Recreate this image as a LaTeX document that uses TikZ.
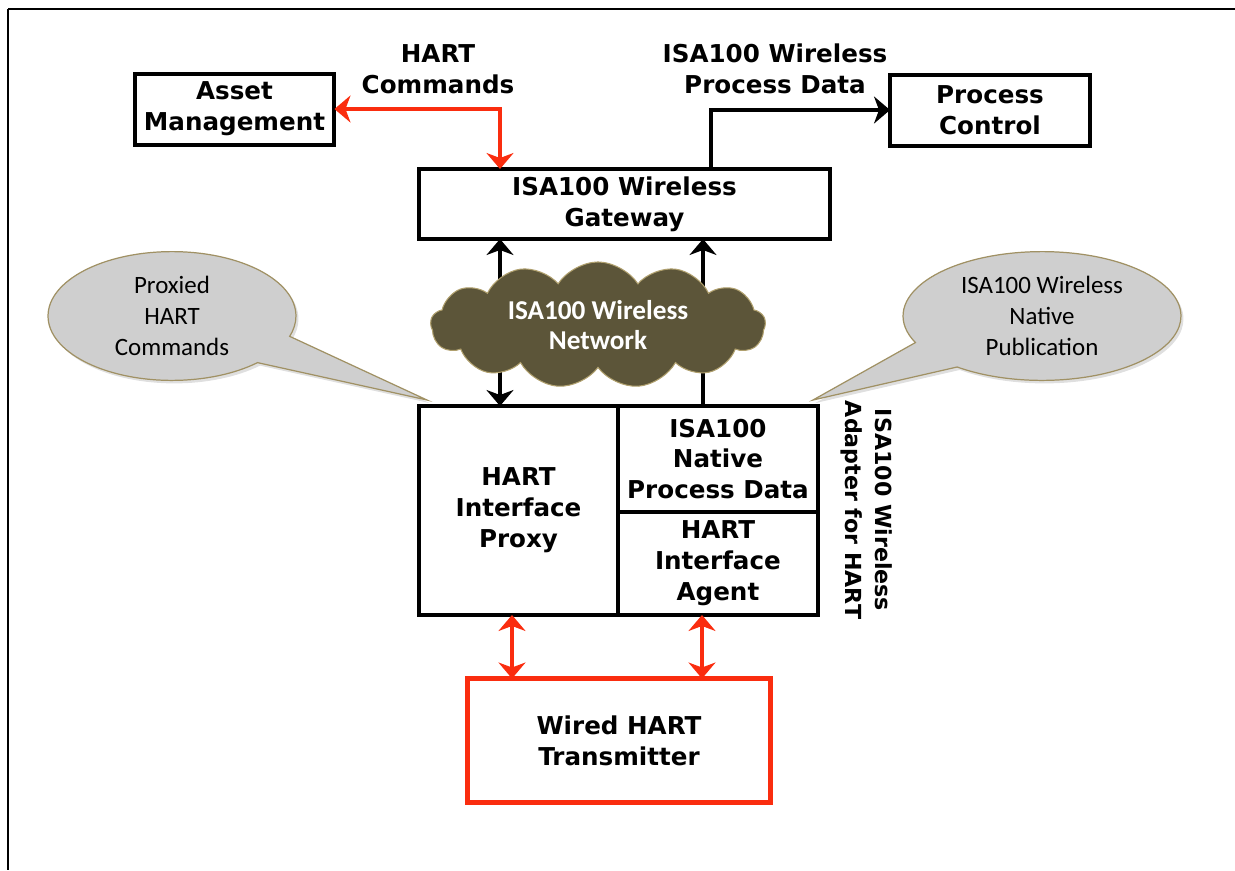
\documentclass[tikz,border=0pt]{standalone}
\usepackage{fontspec}
\setmainfont{DejaVu Sans}
\newfontfamily\calloutfont{Carlito}
\usetikzlibrary{arrows.meta, positioning, calc, shapes.symbols, shapes.callouts, shadows}
\definecolor{hartred}{RGB}{250, 45, 15}
\definecolor{netolive}{RGB}{92, 85, 57}
\definecolor{netedge}{RGB}{176, 160, 110}
\definecolor{bubblegray}{RGB}{207, 207, 207}
\definecolor{bubbleedge}{RGB}{160, 145, 100}
\tikzset{
    block/.style={
        rectangle, draw=black, fill=white, line width=0.08cm, outer sep=0pt,
        font=\fontsize{14}{17.6}\selectfont\bfseries, align=center, inner sep=0pt
    },
    wiredblock/.style={block, draw=hartred, line width=0.1cm},
    flowlabel/.style={font=\fontsize{14}{17.6}\selectfont\bfseries, align=center},
    netcloud/.style={
        cloud, cloud puffs=13, cloud puff arc=115, aspect=3.6,
        fill=netolive, draw=netedge, line width=0.6pt, text=white,
        font=\calloutfont\fontsize{15.5}{17.5}\selectfont\bfseries, align=center,
        minimum width=6.7cm, minimum height=1.8cm
    },
    bubble/.style={
        ellipse callout, fill=bubblegray, draw=bubbleedge, line width=0.7pt,
        font=\calloutfont\fontsize{14.2}{17.6}\selectfont, align=center,
        callout pointer arc=28,
        drop shadow={opacity=0.25, shadow xshift=0.05cm, shadow yshift=-0.06cm}
    },
    blackarrow/.style={line width=0.08cm, -{Stealth[length=0.32cm, width=0.54cm, inset=0.1cm]}},
    twowayarrow/.style={line width=0.08cm,
        {Stealth[length=0.32cm, width=0.54cm, inset=0.1cm]}-{Stealth[length=0.32cm, width=0.54cm, inset=0.1cm]}},
    redarrow/.style={twowayarrow, draw=hartred}
}
\begin{document}
\begin{tikzpicture}[x=0.02cm, y=-0.02cm]
    \useasboundingbox (0,0) rectangle (1235,870);

    % Page frame
    \draw[line width=0.05cm] (8,9) -- (1235,9);
    \draw[line width=0.025cm] (8,9) -- (8,870);

    % Top row
    \node[block, minimum width=4cm, minimum height=1.42cm] (asset) at (234.5,109) {Asset\\Management};
    \node[block, minimum width=4cm, minimum height=1.42cm] (process) at (990,110) {Process\\Control};
    \node[block, minimum width=8.22cm, minimum height=1.4cm] (gateway) at (624.5,204) {ISA100 Wireless\\Gateway};

    % Adapter
    \node[block, minimum width=3.98cm, minimum height=4.18cm] (proxy) at (518.5,510.5) {HART\\Interface\\Proxy};
    \node[block, minimum width=4cm, minimum height=2.12cm, anchor=north west] (native) at (proxy.north east) {ISA100\\Native\\Process Data};
    \node[block, minimum width=4cm, minimum height=2.06cm, anchor=north west] (agent) at (native.south west) {HART\\Interface\\Agent};
    \node[flowlabel, rotate=-90, font=\fontsize{12.6}{17}\selectfont\bfseries] (adapterlabel) at (867,510) {ISA100 Wireless\\Adapter for HART};

    % Transmitter
    \node[wiredblock, minimum width=6.06cm, minimum height=2.48cm] (transmitter) at (619,740.5) {Wired HART\\Transmitter};

    % Arrow columns
    \coordinate (cmdx) at (500,0);
    \coordinate (datax) at (711,0);
    \coordinate (netleft) at (500,0);
    \coordinate (netright) at (703,0);
    \coordinate (wireleft) at (512,0);
    \coordinate (wireright) at (702,0);

    \draw[redarrow] (asset.east) -| (gateway.north -| cmdx);
    \draw[blackarrow] (gateway.north -| datax) |- (process.west);
    \node[flowlabel] (cmdlabel) at (438,69) {HART\\Commands};
    \node[flowlabel] (datalabel) at (775,69) {ISA100 Wireless\\Process Data};

    \draw[twowayarrow] (proxy.north -| netleft) -- (gateway.south -| netleft);
    \draw[blackarrow] (native.north -| netright) -- (gateway.south -| netright);
    \draw[redarrow] (proxy.south -| wireleft) -- (transmitter.north -| wireleft);
    \draw[redarrow] (agent.south -| wireright) -- (transmitter.north -| wireright);

    % Wireless network
    \node[netcloud] (network) at (598,325) {ISA100 Wireless\\Network};

    % Callouts
    \coordinate (proxytip) at ($(proxy.north west)+(8,-6)$);
    \coordinate (nativetip) at ($(native.north east)+(-5,-6)$);
    \node[bubble, minimum width=4.96cm, minimum height=2.1cm, callout absolute pointer={(proxytip)}] (proxybubble) at (172,316) {Proxied\\HART\\Commands};
    \node[bubble, minimum width=5.56cm, minimum height=2.16cm, callout absolute pointer={(nativetip)}] (nativebubble) at (1042,316) {ISA100 Wireless\\Native\\Publication};

\end{tikzpicture}
\end{document}
